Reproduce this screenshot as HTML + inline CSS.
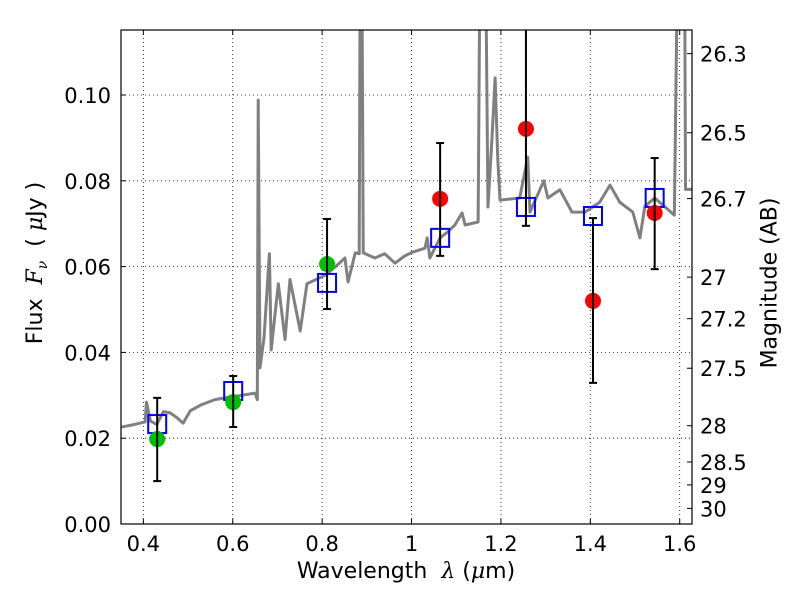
<!DOCTYPE html>
<html><head><meta charset="utf-8"><style>body{margin:0;background:#fff}svg{display:block;font-family:"DejaVu Sans","Liberation Sans",sans-serif}</style></head>
<body>
<svg id="c" width="800" height="600"></svg>
<script>
const specLam=[0.351,0.380,0.404,0.407,0.416,0.430,0.445,0.460,0.475,0.489,0.505,0.530,0.560,0.594,0.620,0.650,0.655,0.657,0.661,0.670,0.682,0.686,0.702,0.717,0.728,0.751,0.766,0.807,0.830,0.851,0.858,0.874,0.883,0.885,0.889,0.892,0.918,0.940,0.963,0.985,1.003,1.030,1.035,1.041,1.064,1.080,1.097,1.113,1.120,1.149,1.153,1.166,1.171,1.180,1.187,1.193,1.198,1.242,1.260,1.265,1.296,1.305,1.332,1.359,1.388,1.421,1.444,1.466,1.495,1.511,1.522,1.544,1.566,1.588,1.595,1.611,1.613,1.627];
const specFlux=[0.0226,0.0232,0.0238,0.0284,0.024,0.0232,0.0262,0.0259,0.0248,0.0235,0.0264,0.0278,0.0290,0.0296,0.0300,0.0305,0.029,0.0988,0.0364,0.0434,0.063,0.0406,0.056,0.043,0.057,0.045,0.056,0.058,0.060,0.062,0.0564,0.0632,0.063,0.13,0.13,0.0632,0.062,0.0630,0.0608,0.0625,0.0634,0.0643,0.0667,0.062,0.0667,0.0680,0.0697,0.0725,0.0697,0.0704,0.13,0.13,0.0739,0.09,0.104,0.085,0.0755,0.076,0.0855,0.0727,0.080,0.076,0.0779,0.0727,0.0727,0.075,0.079,0.075,0.0727,0.0667,0.074,0.076,0.074,0.072,0.13,0.13,0.078,0.078];
const bandLam=[0.431,0.601,0.811,1.064,1.256,1.406,1.544];
const obsFlux=[0.0198,0.0284,0.0606,0.0758,0.0921,0.052,0.0725];
const errHi=[0.0294,0.0345,0.0711,0.0888,0.118,0.0713,0.0853];
const errLo=[0.0100,0.0226,0.0501,0.0625,0.0695,0.0329,0.0594];
const modelFlux=[0.0233,0.031,0.0562,0.0667,0.0739,0.0718,0.076];
const obsColor=['#00c000','#00c000','#00c000','red','red','red','red'];
const xTicks=[0.4,0.6,0.8,1.0,1.2,1.4,1.6];
const xTickLabels=['0.4','0.6','0.8','1','1.2','1.4','1.6'];
const yTicks=[0,0.02,0.04,0.06,0.08,0.10];
const yTickLabels=['0.00','0.02','0.04','0.06','0.08','0.10'];
const magTicks=[26.3,26.5,26.7,27,27.2,27.5,28,28.5,29,30];
const magLabels=['26.3','26.5','26.7','27','27.2','27.5','28','28.5','29','30'];

const L=121,R=692,T=30,B=524,X0=0.35,X1=1.6275,Y0=0,Y1=0.11515;
const sx=v=>L+(v-X0)/(X1-X0)*(R-L);
const sy=v=>B-(v-Y0)/(Y1-Y0)*(B-T);
const svg=document.getElementById('c');const NS='http://www.w3.org/2000/svg';
function mk(t,a,p){const e=document.createElementNS(NS,t);for(const k in a)e.setAttribute(k,a[k]);(p||svg).appendChild(e);return e;}
const defs=mk('defs',{});const cp=mk('clipPath',{id:'pc'},defs);mk('rect',{x:L,y:T,width:R-L,height:B-T},cp);
const plot=mk('g',{'clip-path':'url(#pc)'});


xTicks.forEach((v,i)=>{
  const g=mk('line',{x1:sx(v),x2:sx(v),y1:T,y2:B,stroke:'#000','stroke-width':0.8,'stroke-dasharray':'1,3'},plot);
  
  
  mk('line',{x1:sx(v),x2:sx(v),y1:B,y2:B-5,stroke:'#000'});
  mk('line',{x1:sx(v),x2:sx(v),y1:T,y2:T+5,stroke:'#000'});
  const t=mk('text',{x:sx(v),y:B+27,'text-anchor':'middle','font-size':21});t.textContent=xTickLabels[i];
  
  
});
yTicks.forEach((v,i)=>{
  const g=mk('line',{x1:L,x2:R,y1:sy(v),y2:sy(v),stroke:'#000','stroke-width':0.8,'stroke-dasharray':'1,3'},plot);
  
  
  mk('line',{x1:L,x2:L+5,y1:sy(v),y2:sy(v),stroke:'#000'});
  const t=mk('text',{x:L-10,y:sy(v)+8,'text-anchor':'end','font-size':21});t.textContent=yTickLabels[i];
  
  
});
magTicks.forEach((m,i)=>{
  const f=Math.pow(10,(23.9-m)/2.5);const y=sy(f);
  mk('line',{x1:R,x2:R-5,y1:y,y2:y,stroke:'#000'});
  const t=mk('text',{x:R+8,y:y+8,'font-size':21});t.textContent=magLabels[i];
  
  
});
const sp=mk('polyline',{points:specLam.map((l,i)=>sx(l)+','+sy(specFlux[i])).join(' '),fill:'none',stroke:'#808080','stroke-width':3,'stroke-linejoin':'round'},plot);


bandLam.forEach((l,i)=>{
  const x=sx(l);
  const s=mk('rect',{x:x-9,y:sy(modelFlux[i])-9,width:18,height:18,fill:'none',stroke:'#0000ff','stroke-width':2},plot);
  
  
  const c=mk('circle',{cx:x,cy:sy(obsFlux[i]),r:8,fill:obsColor[i]},plot);
  
  
  const e=mk('g',{stroke:'#000','stroke-width':2},plot);
  
  
  mk('line',{x1:x,x2:x,y1:sy(errHi[i]),y2:sy(errLo[i])},e);
  mk('line',{x1:x-4,x2:x+4,y1:sy(errHi[i]),y2:sy(errHi[i])},e);
  mk('line',{x1:x-4,x2:x+4,y1:sy(errLo[i]),y2:sy(errLo[i])},e);
});
const fr=mk('rect',{x:L,y:T,width:R-L,height:B-T,fill:'none',stroke:'#000','stroke-width':1.2});


</script>
<div style="position:absolute;left:0;top:0;width:800px;height:600px;pointer-events:none;font-family:'DejaVu Sans','Liberation Sans',sans-serif">
<div style="position:absolute;left:0;width:812px;top:559px;text-align:center;font-size:22px">Wavelength &nbsp;<i style="font-family:'DejaVu Serif',serif">λ</i> (<i style="font-family:'DejaVu Serif',serif">μ</i>m)</div>
<div style="position:absolute;left:37px;top:263px;font-size:22px;white-space:nowrap;transform:translate(-50%,-50%) rotate(-90deg)">Flux &nbsp;<i style="font-family:'DejaVu Serif',serif">F<sub style="font-size:14px">ν</sub></i> &nbsp;( <i style="font-family:'DejaVu Serif',serif">μ</i>Jy )</div>
<div style="position:absolute;left:770px;top:283px;font-size:22px;white-space:nowrap;transform:translate(-50%,-50%) rotate(-90deg)">Magnitude (AB)</div>
</div>
</body></html>
